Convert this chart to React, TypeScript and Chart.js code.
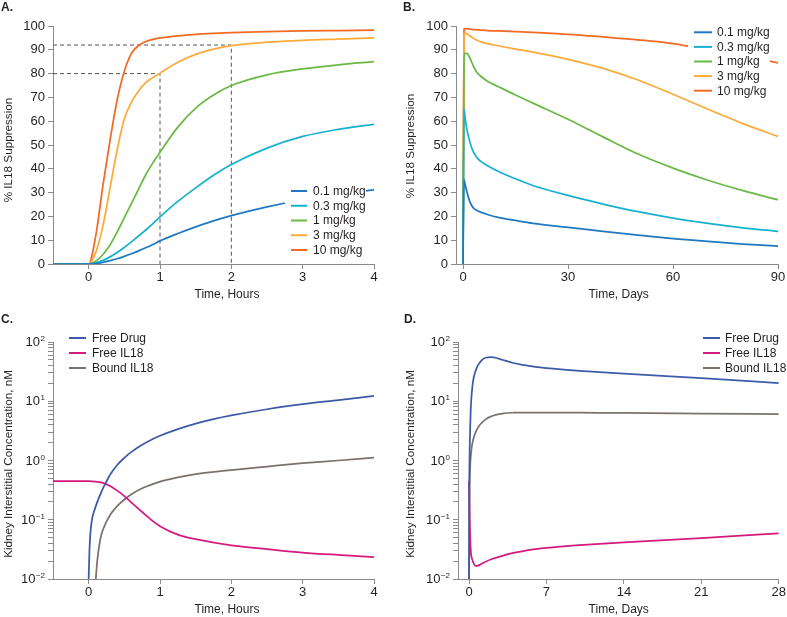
import React, { useEffect, useRef } from "react";
import Chart from "chart.js/auto";

const FONT = "'Liberation Sans', Arial, Helvetica, sans-serif";
const AXIS_COLOR = "#8a8a8a";
const TEXT_COLOR = "#231f20";
const GUIDE_COLOR = "#555555";

// ---------------- Panel A: % IL18 suppression, hours ----------------
const doseLabels = ["0.1 mg/kg", "0.3 mg/kg", "1 mg/kg", "3 mg/kg", "10 mg/kg"];
const doseColors = ["#1f78c1", "#17b1d0", "#6ab945", "#fbab3a", "#f26a25"];

const hoursA = [-0.5, 0, 0.1, 0.2, 0.3, 0.4, 0.5, 0.6, 0.7, 0.8, 0.9, 1.0, 1.25, 1.5, 1.75, 2, 2.5, 3, 3.5, 4];
const supA_01 = [0, 0, 0.2, 0.7, 1.4, 2.2, 3.2, 4.3, 5.5, 6.8, 8.2, 9.7, 12.8, 15.6, 18.1, 20.3, 24, 27, 29.3, 31.2];
const supA_03 = [0, 0, 0.5, 1.5, 3, 4.8, 7, 9.3, 11.8, 14.3, 17, 19.8, 26.3, 32, 37.3, 41.8, 48.7, 53.6, 56.6, 58.7];
const supA_1 = [0, 0, 1.2, 4, 8, 13.5, 19.5, 25.5, 31.5, 37.5, 42.5, 47, 57.5, 65.5, 71, 75, 79.5, 82, 83.7, 85];
const supA_3 = [0, 0, 5, 16, 32, 48, 61, 68, 72.8, 76.2, 78.4, 80.2, 84.8, 88.1, 90.3, 91.8, 93.2, 94, 94.5, 95];
const supA_10 = [0, 0, 12, 33, 52, 69, 81, 88.5, 91.8, 93.5, 94.4, 95, 95.9, 96.5, 96.9, 97.2, 97.6, 97.9, 98.1, 98.3];

const hourTicks = [0, 1, 2, 3, 4];
const pctTicks = [0, 10, 20, 30, 40, 50, 60, 70, 80, 90, 100];
const guide80X = [-0.5, 1, 1];
const guide80Y = [80, 80, 0];
const guide92X = [-0.5, 2, 2];
const guide92Y = [92, 92, 0];

// ---------------- Panel B: % IL18 suppression, days ----------------
const daysB = [0, 0.3, 0.6, 1, 2, 3, 4, 5, 7, 10, 15, 20, 30, 40, 50, 60, 70, 80, 90];
const supB_01 = [0, 35.5, 33.5, 31, 26, 23.5, 22.5, 21.8, 20.8, 19.6, 18.3, 17.1, 15.4, 13.7, 12.1, 10.7, 9.5, 8.4, 7.5];
const supB_03 = [0, 65, 61.5, 57.5, 51, 47, 44.7, 43.2, 41.3, 39, 35.8, 33, 28.8, 25.2, 22, 19.3, 17.1, 15.2, 13.7];
const supB_1 = [0, 86, 88.4, 88.6, 86.5, 83, 80.5, 79, 76.8, 74.6, 71, 67.6, 60.8, 53.4, 46.2, 40.3, 35.2, 30.8, 27];
const supB_3 = [0, 96.5, 97, 96.8, 95.8, 94.8, 94, 93.4, 92.6, 91.7, 90.3, 89, 86, 82.2, 77.3, 71.3, 65, 59, 53.6];
const supB_10 = [0, 98.8, 98.9, 98.8, 98.7, 98.5, 98.4, 98.3, 98.1, 97.9, 97.6, 97.3, 96.5, 95.4, 94.2, 92.6, 90, 87.6, 84.5];
const dayTicksB = [0, 30, 60, 90];

// ---------------- Panel C: kidney concentrations, hours ----------------
const speciesLabels = ["Free Drug", "Free IL18", "Bound IL18"];
const speciesColors = ["#3c5aa8", "#d4197f", "#7b716d"];

const drugHoursC = [0, 0.01, 0.02, 0.03, 0.05, 0.075, 0.1, 0.15, 0.2, 0.25, 0.3, 0.4, 0.5, 0.6, 0.75, 0.9, 1, 1.25, 1.5, 1.75, 2, 2.5, 3, 3.5, 4];
const drugC = [0.01, 0.028, 0.05, 0.071, 0.107, 0.138, 0.17, 0.245, 0.339, 0.442, 0.575, 0.841, 1.109, 1.396, 1.841, 2.304, 2.615, 3.388, 4.193, 4.983, 5.754, 7.328, 8.913, 10.47, 12.3];
const il18HoursC = [-0.5, 0, 0.1, 0.2, 0.3, 0.4, 0.5, 0.6, 0.75, 0.9, 1, 1.25, 1.5, 2, 2.5, 3, 3.5, 4];
const il18C = [0.45, 0.45, 0.44, 0.42, 0.37, 0.31, 0.25, 0.195, 0.135, 0.095, 0.078, 0.056, 0.047, 0.037, 0.032, 0.028, 0.0255, 0.0235];
const boundHoursC = [0.1, 0.12, 0.16, 0.2, 0.3, 0.4, 0.5, 0.6, 0.75, 0.9, 1, 1.25, 1.5, 2, 2.5, 3, 3.5, 4];
const boundC = [0.01, 0.02, 0.045, 0.068, 0.12, 0.17, 0.22, 0.27, 0.34, 0.4, 0.44, 0.52, 0.59, 0.69, 0.79, 0.9, 1.0, 1.12];

// ---------------- Panel D: kidney concentrations, days ----------------
const drugDaysD = [0, 0.02, 0.05, 0.1, 0.15, 0.2, 0.3, 0.4, 0.5, 0.75, 1, 1.25, 1.5, 2, 2.5, 3, 4, 5, 6, 7, 10, 14, 21, 28];
const drugD = [0.01, 0.316, 1.26, 3.55, 7.08, 10.7, 17.8, 24, 28.8, 38.9, 45.7, 51.3, 54.3, 55.6, 53.7, 50.1, 44.2, 40.7, 38, 36.3, 32.7, 29.2, 24.5, 20.3];
const il18DaysD = [0, 0.03, 0.07, 0.15, 0.3, 0.45, 0.6, 0.8, 1.3, 2, 3, 4, 5, 6, 7, 10, 14, 21, 28];
const il18D = [0.45, 0.2, 0.08, 0.031, 0.021, 0.0178, 0.0166, 0.0168, 0.0188, 0.0215, 0.0245, 0.0275, 0.0298, 0.0318, 0.0335, 0.0373, 0.0417, 0.049, 0.059];
const boundDaysD = [0, 0.02, 0.05, 0.1, 0.2, 0.3, 0.5, 0.75, 1, 1.5, 2, 2.5, 3, 4, 5, 7, 10, 14, 21, 28];
const boundD = [0.01, 0.1, 0.35, 0.8, 1.45, 1.95, 2.7, 3.45, 4.05, 4.95, 5.55, 5.95, 6.2, 6.4, 6.45, 6.45, 6.4, 6.35, 6.2, 6.05];
const dayTicksD = [0, 7, 14, 21, 28];

// log axis
const logDecades = [0.01, 0.1, 1, 10];
const logMultipliers = [1, 2, 3, 4, 5, 6, 7, 8, 9];
const logTicks = [...logDecades.flatMap((d) => logMultipliers.map((m) => m * d)), 100];
const logLabelValues = [0.01, 0.1, 1, 10, 100];
const logLabelExps = ["\u22122", "\u22121", "0", "1", "2"];

// ---------------- helpers ----------------
const pts = (xs: number[], ys: number[]) => xs.map((x, i) => ({ x, y: ys[i] }));

function curve(label: string, color: string, xs: number[], ys: number[]) {
  return {
    label,
    data: pts(xs, ys),
    borderColor: color,
    backgroundColor: color,
    borderWidth: 1.75,
    pointRadius: 0,
    fill: false,
    cubicInterpolationMode: "monotone" as const,
    order: 1,
  };
}

function guide(xs: number[], ys: number[]) {
  return {
    label: "guide",
    data: pts(xs, ys),
    borderColor: GUIDE_COLOR,
    borderWidth: 1,
    borderDash: [4, 3],
    pointRadius: 0,
    tension: 0,
    fill: false,
    order: 10,
  };
}

type LegendCfg = {
  labels: string[];
  colors: string[];
  ys: number[];
  x0: number;
  x1: number;
  tx: number;
  box?: [number, number, number, number];
};

type TextCfg = {
  xTitle: string;
  xTitleX: number;
  xTitleY: number;
  yTitle: string;
  yTitleX: number;
  yTitleY: number;
};

function legendPlugin(cfg: LegendCfg) {
  return {
    id: "panelLegend",
    afterDatasetsDraw(chart: any) {
      const ctx = chart.ctx;
      ctx.save();
      if (cfg.box) {
        ctx.fillStyle = "#ffffff";
        ctx.fillRect(cfg.box[0], cfg.box[1], cfg.box[2], cfg.box[3]);
      }
      ctx.font = `12px ${FONT}`;
      ctx.textBaseline = "middle";
      ctx.textAlign = "left";
      cfg.labels.forEach((lab, i) => {
        const y = cfg.ys[i];
        ctx.strokeStyle = cfg.colors[i];
        ctx.lineWidth = 2;
        ctx.beginPath();
        ctx.moveTo(cfg.x0, y);
        ctx.lineTo(cfg.x1, y);
        ctx.stroke();
        ctx.fillStyle = TEXT_COLOR;
        ctx.fillText(lab, cfg.tx, y + 0.5);
      });
      ctx.restore();
    },
  };
}

function textPlugin(cfg: TextCfg) {
  return {
    id: "panelText",
    afterDraw(chart: any) {
      const ctx = chart.ctx;
      ctx.save();
      ctx.fillStyle = TEXT_COLOR;
      ctx.textAlign = "center";
      ctx.textBaseline = "middle";
      ctx.font = `12px ${FONT}`;
      ctx.fillText(cfg.xTitle, cfg.xTitleX, cfg.xTitleY);
      ctx.translate(cfg.yTitleX, cfg.yTitleY);
      ctx.rotate(-Math.PI / 2);
      ctx.font = `11.7px ${FONT}`;
      ctx.fillText(cfg.yTitle, 0, 0);
      ctx.restore();
    },
  };
}

function logLabelPlugin() {
  return {
    id: "logLabels",
    afterDraw(chart: any) {
      const ys = chart.scales.y;
      const ctx = chart.ctx;
      const right = ys.right - 8;
      ctx.save();
      ctx.fillStyle = TEXT_COLOR;
      ctx.textAlign = "right";
      logLabelValues.forEach((v, i) => {
        const y = ys.getPixelForValue(v);
        ctx.font = `8px ${FONT}`;
        const ew = ctx.measureText(logLabelExps[i]).width;
        ctx.textBaseline = "alphabetic";
        ctx.fillText(logLabelExps[i], right, y - 1);
        ctx.font = `13px ${FONT}`;
        ctx.textBaseline = "middle";
        ctx.fillText("10", right - ew - 0.5, y + 0.5);
      });
      ctx.restore();
    },
  };
}

type PanelSpec = {
  left: number;
  top: number;
  width: number;
  height: number;
  datasets: any[];
  xMin: number;
  xMax: number;
  xTicks: number[];
  yLog: boolean;
  yMin: number;
  yMax: number;
  yTicks: number[];
  yWidth: number;
  xHeight: number;
  padTop: number;
  padRight: number;
  legend: LegendCfg;
  text: TextCfg;
};

function buildConfig(p: PanelSpec): any {
  const plugins: any[] = [legendPlugin(p.legend), textPlugin(p.text)];
  if (p.yLog) plugins.push(logLabelPlugin());
  return {
    type: "line",
    data: { datasets: p.datasets },
    plugins,
    options: {
      responsive: false,
      animation: false,
      events: [],
      layout: { padding: { top: p.padTop, right: p.padRight, left: 0, bottom: 0 } },
      plugins: {
        legend: { display: false },
        tooltip: { enabled: false },
        title: { display: false },
      },
      scales: {
        x: {
          type: "linear",
          min: p.xMin,
          max: p.xMax,
          afterBuildTicks: (s: any) => {
            s.ticks = p.xTicks.map((v) => ({ value: v }));
          },
          afterFit: (s: any) => {
            s.height = p.xHeight;
          },
          ticks: {
            autoSkip: false,
            maxRotation: 0,
            padding: 1,
            color: TEXT_COLOR,
            font: { family: FONT, size: 13 },
            callback: (v: number) => String(v),
          },
          grid: {
            drawOnChartArea: false,
            drawTicks: true,
            tickLength: 5,
            color: AXIS_COLOR,
            lineWidth: 1,
          },
          border: { display: true, color: AXIS_COLOR, width: 1 },
          title: { display: false },
        },
        y: {
          type: p.yLog ? "logarithmic" : "linear",
          min: p.yMin,
          max: p.yMax,
          afterBuildTicks: (s: any) => {
            s.ticks = p.yTicks.map((v) => ({ value: v }));
          },
          afterFit: (s: any) => {
            s.width = p.yWidth;
          },
          ticks: {
            display: !p.yLog,
            autoSkip: false,
            padding: 3,
            color: TEXT_COLOR,
            font: { family: FONT, size: 13 },
            callback: (v: number) => String(v),
          },
          grid: {
            drawOnChartArea: false,
            drawTicks: true,
            tickLength: 5,
            color: AXIS_COLOR,
            lineWidth: 1,
          },
          border: { display: true, color: AXIS_COLOR, width: 1 },
          title: { display: false },
        },
      },
    },
  };
}

const panelA: PanelSpec = {
  left: 0,
  top: 0,
  width: 393,
  height: 302,
  datasets: [
    curve(doseLabels[0], doseColors[0], hoursA, supA_01),
    curve(doseLabels[1], doseColors[1], hoursA, supA_03),
    curve(doseLabels[2], doseColors[2], hoursA, supA_1),
    curve(doseLabels[3], doseColors[3], hoursA, supA_3),
    curve(doseLabels[4], doseColors[4], hoursA, supA_10),
    guide(guide80X, guide80Y),
    guide(guide92X, guide92Y),
  ],
  xMin: -0.5,
  xMax: 4,
  xTicks: hourTicks,
  yLog: false,
  yMin: 0,
  yMax: 100,
  yTicks: pctTicks,
  yWidth: 53,
  xHeight: 38,
  padTop: 26,
  padRight: 19,
  legend: {
    labels: doseLabels,
    colors: doseColors,
    ys: [191, 205.75, 220.5, 235.25, 250],
    x0: 291,
    x1: 307,
    tx: 313,
    box: [285, 183, 81, 75],
  },
  text: {
    xTitle: "Time, Hours",
    xTitleX: 227,
    xTitleY: 294.5,
    yTitle: "% IL18 Suppression",
    yTitleX: 9,
    yTitleY: 150,
  },
};

const panelB: PanelSpec = {
  left: 393,
  top: 0,
  width: 394,
  height: 302,
  datasets: [
    curve(doseLabels[0], doseColors[0], daysB, supB_01),
    curve(doseLabels[1], doseColors[1], daysB, supB_03),
    curve(doseLabels[2], doseColors[2], daysB, supB_1),
    curve(doseLabels[3], doseColors[3], daysB, supB_3),
    curve(doseLabels[4], doseColors[4], daysB, supB_10),
  ],
  xMin: -2,
  xMax: 90,
  xTicks: dayTicksB,
  yLog: false,
  yMin: 0,
  yMax: 100,
  yTicks: pctTicks,
  yWidth: 63,
  xHeight: 38,
  padTop: 26,
  padRight: 9,
  legend: {
    labels: doseLabels,
    colors: doseColors,
    ys: [32.3, 46.9, 61.5, 76.1, 90.7],
    x0: 301,
    x1: 319,
    tx: 324,
    box: [295, 24, 82, 74],
  },
  text: {
    xTitle: "Time, Days",
    xTitleX: 225.7,
    xTitleY: 294.5,
    yTitle: "% IL18 Suppression",
    yTitleX: 17.5,
    yTitleY: 146,
  },
};

const panelC: PanelSpec = {
  left: 0,
  top: 306,
  width: 393,
  height: 311,
  datasets: [
    curve(speciesLabels[0], speciesColors[0], drugHoursC, drugC),
    curve(speciesLabels[1], speciesColors[1], il18HoursC, il18C),
    curve(speciesLabels[2], speciesColors[2], boundHoursC, boundC),
  ],
  xMin: -0.5,
  xMax: 4,
  xTicks: hourTicks,
  yLog: true,
  yMin: 0.01,
  yMax: 100,
  yTicks: logTicks,
  yWidth: 53,
  xHeight: 38,
  padTop: 36,
  padRight: 19,
  legend: {
    labels: speciesLabels,
    colors: speciesColors,
    ys: [32, 47, 62],
    x0: 69,
    x1: 86,
    tx: 92,
  },
  text: {
    xTitle: "Time, Hours",
    xTitleX: 227,
    xTitleY: 303.5,
    yTitle: "Kidney Interstitial Concentration, nM",
    yTitleX: 9,
    yTitleY: 158,
  },
};

const panelD: PanelSpec = {
  left: 393,
  top: 306,
  width: 394,
  height: 311,
  datasets: [
    curve(speciesLabels[0], speciesColors[0], drugDaysD, drugD),
    curve(speciesLabels[1], speciesColors[1], il18DaysD, il18D),
    curve(speciesLabels[2], speciesColors[2], boundDaysD, boundD),
  ],
  xMin: -1,
  xMax: 28,
  xTicks: dayTicksD,
  yLog: true,
  yMin: 0.01,
  yMax: 100,
  yTicks: logTicks,
  yWidth: 65,
  xHeight: 38,
  padTop: 36,
  padRight: 8,
  legend: {
    labels: speciesLabels,
    colors: speciesColors,
    ys: [32, 47, 62],
    x0: 310,
    x1: 327,
    tx: 332,
  },
  text: {
    xTitle: "Time, Days",
    xTitleX: 225.7,
    xTitleY: 303.5,
    yTitle: "Kidney Interstitial Concentration, nM",
    yTitleX: 17.5,
    yTitleY: 158,
  },
};

function Panel({ spec }: { spec: PanelSpec }) {
  const ref = useRef<HTMLCanvasElement | null>(null);
  useEffect(() => {
    if (!ref.current) return;
    const chart = new Chart(ref.current, buildConfig(spec));
    return () => chart.destroy();
  }, [spec]);
  return (
    <canvas
      ref={ref}
      width={spec.width}
      height={spec.height}
      style={{
        position: "absolute",
        left: spec.left,
        top: spec.top,
        width: spec.width,
        height: spec.height,
      }}
    />
  );
}

const panelLetters = [
  { text: "A.", left: 1, top: 0 },
  { text: "B.", left: 403, top: 0 },
  { text: "C.", left: 1, top: 312 },
  { text: "D.", left: 404, top: 312 },
];

export default function App() {
  return (
    <div
      style={{
        position: "absolute",
        left: 0,
        top: 0,
        width: 787,
        height: 617,
        background: "#ffffff",
        overflow: "hidden",
      }}
    >
      {[panelA, panelB, panelC, panelD].map((s, i) => (
        <Panel key={i} spec={s} />
      ))}
      {panelLetters.map((l) => (
        <div
          key={l.text}
          style={{
            position: "absolute",
            left: l.left,
            top: l.top,
            fontFamily: FONT,
            fontWeight: "bold",
            fontSize: 12,
            lineHeight: "14px",
            color: TEXT_COLOR,
          }}
        >
          {l.text}
        </div>
      ))}
    </div>
  );
}
